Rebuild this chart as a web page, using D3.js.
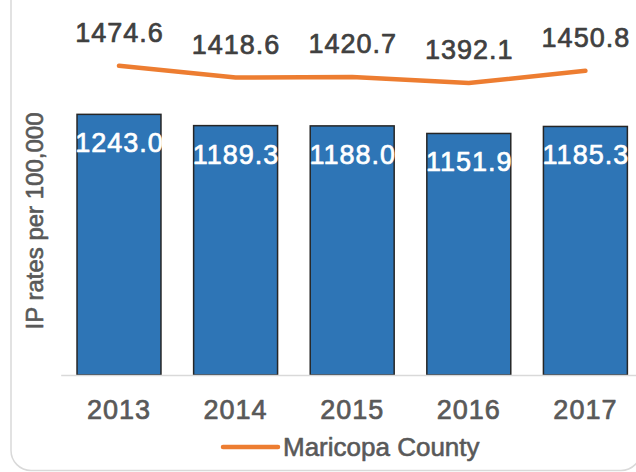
<!DOCTYPE html>
<html>
<head>
<meta charset="utf-8">
<script src="https://cdn.jsdelivr.net/npm/d3@7"></script>
<style>
  html, body { margin: 0; padding: 0; background: #fff; }
  svg { display: block; }
  text { font-family: "Liberation Sans", Arial, sans-serif; }
</style>
</head>
<body>
<svg id="chart" width="636" height="472"></svg>
<script>
// Inpatient rates per 100,000, by year
const years = ["2013", "2014", "2015", "2016", "2017"];
const barValues = [1243.0, 1189.3, 1188.0, 1151.9, 1185.3];
const countyValues = [1474.6, 1418.6, 1420.7, 1392.1, 1450.8];
const seriesName = "Maricopa County";
const yAxisTitle = "IP rates per 100,000";

const svg = d3.select("#chart");

// Medium-weight text: regular face with a thin outline in its own colour
function medium(sel, color, w = 0.7) {
  sel.attr("fill", color).attr("stroke", color).attr("stroke-width", w)
     .attr("stroke-linejoin", "round");
}

// Frame around the chart area
svg.append("rect")
  .attr("x", 11).attr("y", -30)
  .attr("width", 630).attr("height", 500.5)
  .attr("rx", 20).attr("ry", 20)
  .attr("fill", "none")
  .attr("stroke", "#d9d9d9")
  .attr("stroke-width", 1.5);

const x = d3.scaleBand()
  .domain(years)
  .range([60.7, 643.7])
  .paddingInner(0.28)
  .paddingOuter(0.14);

const y = d3.scaleLinear()
  .domain([0, 1600])
  .range([375, 39.5]);

// Bars
svg.append("g").selectAll("rect")
  .data(years)
  .join("rect")
  .attr("x", d => x(d))
  .attr("y", (d, i) => y(barValues[i]))
  .attr("width", x.bandwidth())
  .attr("height", (d, i) => y(0) - y(barValues[i]))
  .attr("fill", "#2E75B6")
  .attr("stroke", "#262626")
  .attr("stroke-width", 1.5);

// Category axis
const xAxis = svg.append("g")
  .attr("transform", `translate(0,${y(0)})`)
  .call(d3.axisBottom(x).tickSize(0).tickPadding(0));
xAxis.select(".domain").attr("stroke", "#d9d9d9").attr("stroke-width", 1.5);
xAxis.selectAll(".tick text")
  .attr("y", 0)
  .attr("dy", 44)
  .style("font-size", "27px")
  .style("letter-spacing", "1px")
  .call(medium, "#595959");

// Bar value labels
svg.append("g").selectAll("text")
  .data(years)
  .join("text")
  .attr("x", d => x(d) + x.bandwidth() / 2 + 0.5)
  .attr("y", (d, i) => y(barValues[i]) + 38)
  .attr("text-anchor", "middle")
  .style("font-size", "27px")
  .style("letter-spacing", "1px")
  .call(medium, "#ffffff")
  .text((d, i) => barValues[i].toFixed(1));

// County line
const cx = d => x(d) + x.bandwidth() / 2;
const line = d3.line()
  .x(d => cx(d.year))
  .y(d => y(d.value));
const linePts = years.map((yr, i) => ({ year: yr, value: countyValues[i] }));

svg.append("path")
  .datum(linePts)
  .attr("d", line)
  .attr("fill", "none")
  .attr("stroke", "#ED7D31")
  .attr("stroke-width", 4.5)
  .attr("stroke-linecap", "round")
  .attr("stroke-linejoin", "round");

// Line value labels
svg.append("g").selectAll("text")
  .data(linePts)
  .join("text")
  .attr("x", d => cx(d.year) + 0.5)
  .attr("y", d => y(d.value) - 24)
  .attr("text-anchor", "middle")
  .style("font-size", "27px")
  .style("letter-spacing", "1px")
  .call(medium, "#404040")
  .text(d => d.value.toFixed(1));

// Y axis title
svg.append("text")
  .attr("transform", "translate(43,221) rotate(-90)")
  .attr("text-anchor", "middle")
  .style("font-size", "24px")
  .call(medium, "#595959", 0.6)
  .text(yAxisTitle);

// Legend
const legend = svg.append("g");
legend.append("line")
  .attr("x1", 223).attr("x2", 278)
  .attr("y1", 447).attr("y2", 447)
  .attr("stroke", "#ED7D31")
  .attr("stroke-width", 4.5)
  .attr("stroke-linecap", "round");
legend.append("text")
  .attr("x", 283).attr("y", 456)
  .style("font-size", "26px")
  .call(medium, "#595959", 0.6)
  .text(seriesName);
</script>
</body>
</html>
